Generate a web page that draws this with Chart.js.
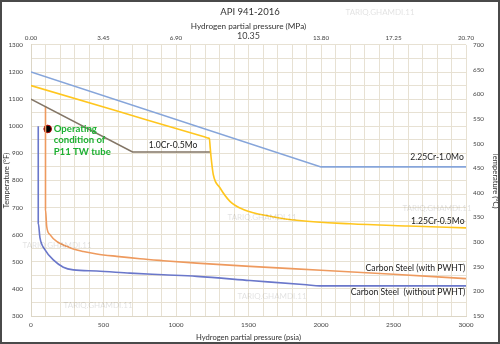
<!DOCTYPE html>
<html>
<head>
<meta charset="utf-8">
<script src="https://cdn.jsdelivr.net/npm/chart.js@4"></script>
<style>
  html, body { margin: 0; padding: 0; background: #fff; }
  #wrap { width: 500px; height: 344px; position: relative; }
</style>
</head>
<body>
<div id="wrap"><canvas id="c" width="500" height="344"></canvas></div>
<script>
// ---- data ----
const psiaTickLabels = [0, 500, 1000, 1500, 2000, 2500, 3000];
const mpaTickLabels = [0, 3.45, 6.90, 10.35, 13.80, 17.25, 20.70];

const cr225Psia = [0, 2000, 3000];
const cr225TempF = [1200, 850, 850];

const cr1Psia = [0, 700, 1235];
const cr1TempF = [1100, 905, 905];

const cr125Psia = [0, 600, 1200, 1225, 1230, 1236, 1242, 1257, 1303, 1372, 1464, 1648, 1850, 2200, 2600, 3000];
const cr125TempF = [1150, 1055, 960, 956, 955, 920, 885, 822, 773, 723, 693, 668, 652, 640, 632, 625];

const csPwhtPsia = [100, 100, 108, 131, 177, 246, 292, 361, 453, 591, 752, 913, 1143, 1510, 2000, 2500, 3000];
const csPwhtTempF = [1075, 693, 631, 600, 575, 557, 547, 538, 529, 520, 511, 504, 495, 483, 469, 454, 438];

const csNoPwhtPsia = [50, 50, 62, 97, 154, 223, 292, 453, 683, 913, 1143, 1510, 1900, 1990, 3000];
const csNoPwhtTempF = [1000, 643, 588, 544, 507, 480, 470, 466, 458, 452, 446, 431, 415, 411, 411];

const operatingPsia = [115];
const operatingTempF = [990];

const seriesLabels = ['2.25Cr-1.0Mo', '1.0Cr-0.5Mo', '1.25Cr-0.5Mo', 'Carbon Steel (with PWHT)', 'Carbon Steel  (without PWHT)'];

// ---- helpers ----
const pts = (xs, ys) => xs.map((x, i) => ({ x: x, y: ys[i] }));
const FONT = 'Lato, "Liberation Sans", sans-serif';

const curveLabels = [
  { text: seriesLabels[1], x: 980, y: 930, align: 'center' },
  { text: seriesLabels[0], x: 2985, y: 885, align: 'right' },
  { text: seriesLabels[2], x: 2990, y: 648, align: 'right' },
  { text: seriesLabels[3], x: 2995, y: 478, align: 'right' },
  { text: seriesLabels[4], x: 2995, y: 389, align: 'right' }
];
const noteLines = ['Operating', 'condition of', 'P11 TW tube'];

const watermarks = [[380, 12], [57, 245], [98, 305], [262, 217], [437, 208], [272, 296]];

const decoPlugin = {
  id: 'deco',
  beforeDraw(chart) {
    const ctx = chart.ctx;
    ctx.save();
    ctx.fillStyle = '#fff';
    ctx.fillRect(0, 0, chart.width, chart.height);
    ctx.restore();
  },
  afterDatasetsDraw(chart) {
    const ctx = chart.ctx;
    const xs = chart.scales.x, ys = chart.scales.y;
    ctx.save();
    // watermarks
    ctx.font = '8px ' + FONT;
    ctx.fillStyle = 'rgba(0,0,0,0.12)';
    ctx.textAlign = 'center';
    ctx.textBaseline = 'middle';
    watermarks.forEach(w => ctx.fillText('TARIQ.GHAMDI.11', w[0], w[1]));
    // curve labels
    ctx.font = '8.6px ' + FONT;
    ctx.fillStyle = '#222';
    curveLabels.forEach(l => {
      ctx.textAlign = l.align;
      ctx.fillText(l.text, xs.getPixelForValue(l.x), ys.getPixelForValue(l.y));
    });
    // note
    ctx.font = 'bold 9.6px ' + FONT;
    ctx.fillStyle = '#1DB032';
    ctx.textAlign = 'left';
    const nx = xs.getPixelForValue(operatingPsia[0]) + 6;
    const ny = ys.getPixelForValue(operatingTempF[0]);
    noteLines.forEach((t, i) => ctx.fillText(t, nx, ny + i * 11.3));
    ctx.restore();
  },
  afterDraw(chart) {
    const ctx = chart.ctx;
    ctx.save();
    ctx.strokeStyle = '#4a4a4a';
    ctx.lineWidth = 2;
    ctx.strokeRect(1, 1, chart.width - 2, chart.height - 2);
    ctx.restore();
  }
};

const lineDs = (label, data, color, curved) => ({
  label: label,
  data: data,
  borderColor: color,
  backgroundColor: color,
  borderWidth: 1.6,
  pointRadius: 0,
  fill: false,
  tension: curved ? 0.4 : 0,
  cubicInterpolationMode: curved ? 'monotone' : 'default',
  xAxisID: 'x',
  yAxisID: 'y'
});

const gridColor = '#E7E1D3';

new Chart(document.getElementById('c'), {
  type: 'line',
  data: {
    datasets: [
      lineDs(seriesLabels[0], pts(cr225Psia, cr225TempF), '#86A5DA', false),
      lineDs(seriesLabels[2], pts(cr125Psia, cr125TempF), '#FFC61E', true),
      lineDs(seriesLabels[1], pts(cr1Psia, cr1TempF), '#827566', false),
      lineDs(seriesLabels[3], pts(csPwhtPsia, csPwhtTempF), '#EE9A5E', true),
      lineDs(seriesLabels[4], pts(csNoPwhtPsia, csNoPwhtTempF), '#6A77CA', true),
      {
        type: 'scatter',
        label: 'Operating condition of P11 TW tube',
        data: pts(operatingPsia, operatingTempF),
        pointRadius: 3.8,
        pointBackgroundColor: '#000',
        pointBorderColor: '#B00000',
        pointBorderWidth: 1,
        xAxisID: 'x',
        yAxisID: 'y'
      }
    ]
  },
  options: {
    responsive: false,
    animation: false,
    devicePixelRatio: 1,
    layout: { padding: 0 },
    plugins: {
      legend: { display: false },
      tooltip: { enabled: false },
      title: {
        display: true,
        text: 'API 941-2016',
        color: '#333',
        font: { family: FONT, size: 9.5, weight: 'normal' },
        padding: { top: 6, bottom: 4 }
      }
    },
    scales: {
      x: {
        type: 'linear',
        position: 'bottom',
        min: 0, max: 3000,
        afterFit: s => { s.height = 28; },
        grid: { color: gridColor, drawTicks: false, lineWidth: 1 },
        border: { color: '#DCD6C6' },
        ticks: {
          stepSize: 100,
          autoSkip: false,
          maxRotation: 0,
          padding: 5,
          color: '#444',
          font: { family: FONT, size: 6.5 },
          callback: v => psiaTickLabels.includes(v) ? String(v) : ''
        },
        title: {
          display: true,
          text: 'Hydrogen partial pressure (psia)',
          color: '#333',
          font: { family: FONT, size: 7.6 },
          padding: { top: 0, bottom: 2 }
        }
      },
      x2: {
        type: 'linear',
        position: 'top',
        min: 0, max: 20.7,
        afterFit: s => { s.height = 23.5; },
        afterBuildTicks: s => { s.ticks = mpaTickLabels.map(v => ({ value: v })); },
        grid: { display: false, drawTicks: false },
        border: { display: false },
        ticks: {
          autoSkip: false,
          maxRotation: 0,
          padding: 3,
          color: '#444',
          font: ctx => (ctx.tick && ctx.tick.value === 10.35) ? { family: FONT, size: 9 } : { family: FONT, size: 6.3 },
          callback: v => v.toFixed(2)
        },
        title: {
          display: true,
          text: 'Hydrogen partial pressure (MPa)',
          color: '#333',
          font: { family: FONT, size: 8.2 },
          padding: { top: 0, bottom: 0 }
        }
      },
      y: {
        type: 'linear',
        position: 'left',
        min: 300, max: 1300,
        afterFit: s => { s.width = 31; },
        grid: { color: gridColor, drawTicks: false },
        border: { color: '#DCD6C6' },
        ticks: {
          stepSize: 50,
          autoSkip: false,
          padding: 8,
          color: '#444',
          font: { family: FONT, size: 6.3 },
          callback: v => v % 100 === 0 ? String(v) : ''
        },
        title: {
          display: true,
          text: 'Temperature (°F)',
          color: '#333',
          font: { family: FONT, size: 7.6 },
          padding: { top: 2, bottom: 0 }
        }
      },
      y2: {
        type: 'linear',
        position: 'right',
        min: 150, max: 700,
        afterFit: s => { s.width = 34; },
        grid: { display: false, drawTicks: false },
        border: { display: false },
        ticks: {
          stepSize: 50,
          autoSkip: false,
          padding: 7,
          color: '#444',
          font: { family: FONT, size: 6.3 }
        },
        title: {
          display: true,
          text: 'Temperature (°C)',
          color: '#333',
          font: { family: FONT, size: 7.6 },
          padding: { top: 0, bottom: 3 }
        }
      }
    }
  },
  plugins: [decoPlugin]
});
</script>
</body>
</html>
